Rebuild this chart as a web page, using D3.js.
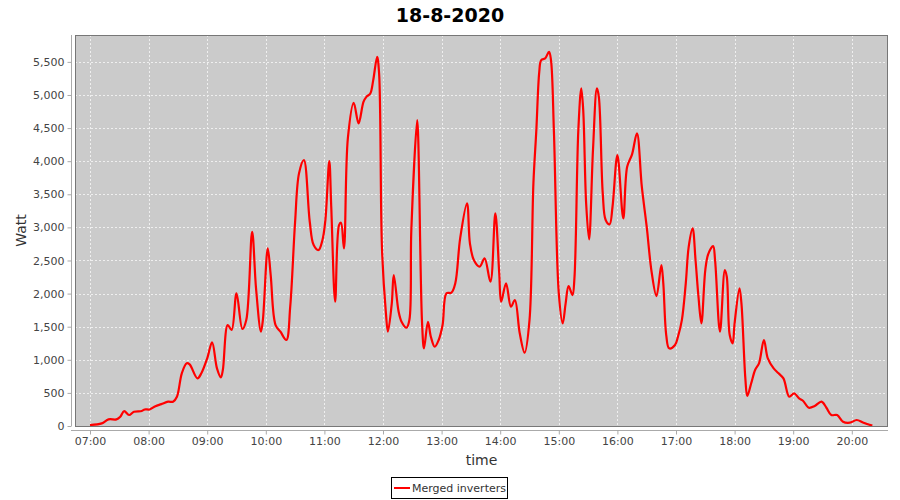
<!DOCTYPE html>
<html>
<head>
<meta charset="utf-8">
<script src="https://cdn.jsdelivr.net/npm/d3@7"></script>
<style>
  html, body { margin: 0; padding: 0; background: #fff; }
  svg { display: block; font-family: "DejaVu Sans", sans-serif; }
</style>
</head>
<body>
<svg id="chart" width="900" height="500"></svg>
<script>
// ---- data ----
const chartTitle = "18-8-2020";
const seriesName = "Merged inverters";
const times = ["07:00","07:12","07:19","07:27","07:31","07:35","07:40","07:45","07:53","07:56",
  "08:01","08:07","08:13","08:20","08:25","08:29","08:34","08:39","08:42","08:50","08:54",
  "09:00","09:05","09:10","09:14","09:16","09:21","09:25","09:30","09:36","09:40","09:46","09:50","09:55","09:57",
  "10:02","10:05","10:10","10:15","10:21","10:25","10:30","10:34","10:39","10:45","10:49","10:54","10:58",
  "11:01","11:05","11:07","11:11","11:15","11:17","11:20","11:24","11:30","11:35","11:40","11:43","11:47","11:50","11:54","11:56","11:59",
  "12:03","12:05","12:09","12:11","12:16","12:19","12:24","12:27","12:29","12:35","12:36","12:40","12:42","12:46","12:49","12:53","12:57",
  "13:01","13:05","13:10","13:14","13:19","13:26","13:29","13:33","13:39","13:44","13:50","13:55","13:59",
  "14:01","14:06","14:11","14:15","14:20","14:25","14:30","14:34","14:37","14:40","14:42","14:46","14:50","14:52","14:55",
  "15:00","15:04","15:07","15:10","15:14","15:16","15:20","15:23","15:25","15:28","15:31","15:35","15:39","15:41","15:45","15:48","15:52","15:55",
  "16:00","16:06","16:10","16:15","16:20","16:25","16:30","16:35","16:40","16:45","16:47","16:50","16:53","16:59",
  "17:02","17:06","17:10","17:13","17:17","17:20","17:23","17:26","17:30","17:33","17:38","17:40","17:45","17:50","17:52","17:55","17:58",
  "18:00","18:05","18:07","18:11","18:13","18:17","18:21","18:25","18:30","18:34","18:40","18:45","18:50","18:56",
  "19:01","19:06","19:10","19:16","19:22","19:29","19:34","19:39","19:45","19:51","19:58",
  "20:05","20:12","20:21"];
const watts = [15,40,100,100,140,226,166,216,226,250,
  250,300,330,367,367,443,796,947,930,720,796,
  1022,1264,871,735,845,1525,1450,2004,1465,1600,2934,2080,1424,1600,
  2683,2280,1525,1424,1299,1802,3085,3816,4017,3085,2733,2658,2809,
  3111,4000,3312,1877,3035,3070,2683,4344,4882,4571,4897,4972,5023,5225,5577,5326,2658,
  1702,1424,1853,2280,1726,1575,1484,1600,2960,4621,4369,1551,1173,1575,1348,1197,1299,
  1525,2004,2013,2155,2834,3363,2759,2507,2406,2532,2179,3211,2306,
  1877,2155,1802,1903,1400,1107,1600,3665,4470,5350,5527,5552,5652,5527,4444,
  2004,1551,1853,2114,1978,2230,4470,5100,4772,3363,2819,4168,5100,4972,3514,3111,3046,3312,
  4092,3136,3916,4103,4420,3614,3010,2330,1963,2431,2155,1374,1173,1223,
  1348,1600,2155,2707,2985,2507,1953,1551,2356,2597,2718,2507,1424,2356,2255,1374,1249,
  1551,2080,1853,720,453,645,846,947,1299,1022,871,796,720,443,
  494,418,382,276,302,367,276,166,166,65,50,
  91,50,5];
const yTicks = [0,500,1000,1500,2000,2500,3000,3500,4000,4500,5000,5500];
const xTickLabels = ["07:00","08:00","09:00","10:00","11:00","12:00","13:00","14:00","15:00","16:00","17:00","18:00","19:00","20:00"];
const xDomainLabels = ["06:44:38","20:37:04"];
const yMax = 5906;

// ---- chart ----
const parse = d3.utcParse("%Y-%m-%d %H:%M");
const parseS = d3.utcParse("%Y-%m-%d %H:%M:%S");
const day = "2020-08-18 ";
const data = times.map((t, i) => ({ t: parse(day + t), v: watts[i] }));

const plot = { left: 75, right: 888, top: 35, bottom: 426 };
const svg = d3.select("#chart");

const x = d3.scaleUtc()
  .domain(xDomainLabels.map(s => parseS(day + s)))
  .range([plot.left, plot.right]);
const y = d3.scaleLinear().domain([0, yMax]).range([plot.bottom, plot.top]);

// title
svg.append("text")
  .attr("x", 450).attr("y", 22)
  .attr("text-anchor", "middle")
  .attr("font-size", 19).attr("font-weight", "bold").attr("fill", "#000")
  .text(chartTitle);

// plot background
svg.append("rect")
  .attr("x", plot.left).attr("y", plot.top)
  .attr("width", plot.right - plot.left).attr("height", plot.bottom - plot.top)
  .attr("fill", "#cbcbcb");

// gridlines
const xTickDates = xTickLabels.map(s => parse(day + s));
const grid = svg.append("g").attr("stroke", "#ffffff").attr("stroke-width", 1)
  .attr("stroke-dasharray", "2,2").attr("opacity", 0.7);
grid.selectAll("line.v").data(xTickDates).join("line")
  .attr("x1", d => Math.round(x(d)) + 0.5).attr("x2", d => Math.round(x(d)) + 0.5)
  .attr("y1", plot.top).attr("y2", plot.bottom);
grid.selectAll("line.h").data(yTicks.filter(v => v > 0)).join("line")
  .attr("y1", d => Math.round(y(d)) + 0.5).attr("y2", d => Math.round(y(d)) + 0.5)
  .attr("x1", plot.left).attr("x2", plot.right);

// line
const line = d3.line().x(d => x(d.t)).y(d => y(d.v)).curve(d3.curveCatmullRom.alpha(0.5));
svg.append("clipPath").attr("id", "clip").append("rect")
  .attr("x", plot.left).attr("y", plot.top)
  .attr("width", plot.right - plot.left).attr("height", plot.bottom - plot.top);
svg.append("path").datum(data)
  .attr("clip-path", "url(#clip)")
  .attr("fill", "none").attr("stroke", "#ff0000").attr("stroke-width", 2.2)
  .attr("stroke-linejoin", "round")
  .attr("d", line);

// plot border
svg.append("rect")
  .attr("x", plot.left + 0.5).attr("y", plot.top + 0.5)
  .attr("width", plot.right - plot.left - 1).attr("height", plot.bottom - plot.top)
  .attr("fill", "none").attr("stroke", "#777").attr("stroke-width", 1);

// axes
const yAxis = d3.axisLeft(y).tickValues(yTicks).tickFormat(d3.format(",")).tickSizeInner(4).tickSizeOuter(0).tickPadding(3);
const gy = svg.append("g").attr("transform", "translate(71.5,0)").call(yAxis);
gy.select(".domain").attr("stroke", "#aaa").attr("d", `M0,${plot.top}V${plot.bottom}`);

const xAxis = d3.axisBottom(x).tickValues(xTickDates).tickFormat(d3.utcFormat("%H:%M")).tickSizeInner(4).tickSizeOuter(0).tickPadding(3);
const gx = svg.append("g").attr("transform", "translate(0,430.5)").call(xAxis);
gx.select(".domain").attr("stroke", "#aaa").attr("d", `M71,0H${plot.right}`);

[gx, gy].forEach(g => {
  g.selectAll(".tick line").attr("stroke", "#aaa");
  g.selectAll(".tick text").attr("fill", "#444").attr("font-size", 11)
    .attr("font-family", "DejaVu Sans, sans-serif");
});

// axis labels
svg.append("text")
  .attr("x", (plot.left + plot.right) / 2).attr("y", 465)
  .attr("text-anchor", "middle").attr("font-size", 14).attr("fill", "#333")
  .text("time");
svg.append("text")
  .attr("transform", `translate(26,${(plot.top + plot.bottom) / 2}) rotate(-90)`)
  .attr("text-anchor", "middle").attr("font-size", 14).attr("fill", "#333")
  .text("Watt");

// legend
const lg = svg.append("g");
lg.append("rect").attr("x", 391.5).attr("y", 477.5).attr("width", 116).attr("height", 21)
  .attr("fill", "#fff").attr("stroke", "#000").attr("stroke-width", 1);
lg.append("line").attr("x1", 394).attr("x2", 410).attr("y1", 488).attr("y2", 488)
  .attr("stroke", "#ff0000").attr("stroke-width", 2);
lg.append("text").attr("x", 412).attr("y", 492).attr("font-size", 11).attr("fill", "#333")
  .text(seriesName);
</script>
</body>
</html>
